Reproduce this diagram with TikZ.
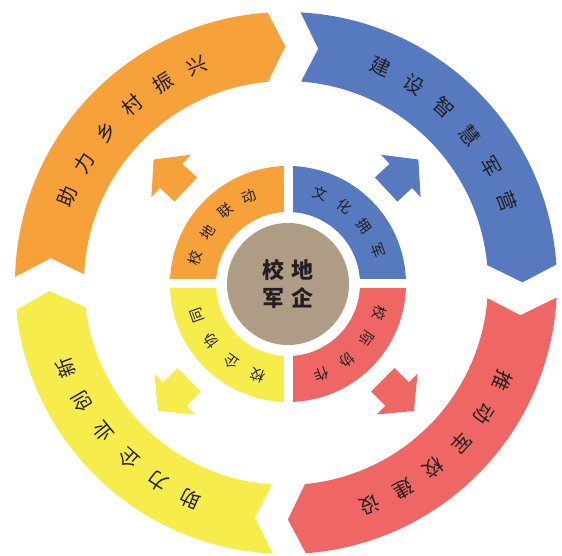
\documentclass[tikz,border=0pt]{standalone}
\usepackage{fontspec}
\newfontfamily\cjk{Noto Sans CJK SC}
\definecolor{cOr}{HTML}{F7A13B}
\definecolor{cBl}{HTML}{5779BF}
\definecolor{cRd}{HTML}{EE6764}
\definecolor{cYe}{HTML}{F6EC4C}
\definecolor{cBr}{HTML}{AE9C84}
\definecolor{cTx}{HTML}{231F20}
\newcommand\ringseg[3]{%
  \fill[#1] (#2-3.49:271pt) arc[start angle=#2-3.49, end angle=#3+3.49, radius=271pt]
    -- (#3-0.24:236.5pt) -- (#3+4.69:202pt)
    arc[start angle=#3+4.69, end angle=#2-4.69, radius=202pt]
    -- (#2-8.24:236.5pt) -- cycle;}
\newcommand\blockarrow[2]{%
  \begin{scope}[rotate=#2]
    \fill[#1] (137,-16.5) -- (157,-16.5) -- (157,-29) -- (181,0) -- (157,29) -- (157,16.5) -- (137,16.5) -- cycle;
  \end{scope}}
\tikzset{
  otext/.style={font=\cjk\fontsize{20}{20}\selectfont, text=cTx, inner sep=0pt},
  itext/.style={font=\cjk\fontsize{14.5}{14.5}\selectfont, text=cTx, inner sep=0pt},
  ctext/.style={font=\cjk\bfseries\fontsize{22}{28}\selectfont, text=cTx, align=center, inner sep=0pt}
}
\begin{document}
\begin{tikzpicture}[x=1pt,y=1pt]
\useasboundingbox[fill=white] (-286,-273) rectangle (276,283);
% outer ring
\ringseg{cOr}{182.2}{90.4}
\ringseg{cBl}{90.4}{0.4}
\ringseg{cRd}{0.4}{-89.3}
\ringseg{cYe}{-89.3}{-177.8}
% outer texts
\foreach \ch [count=\i from 0] in {助,力,乡,村,振,兴} {
  \pgfmathsetmacro\a{135.4+9.2*(2.5-\i)}
  \node[otext, rotate=\a-90] (ta\i) at (\a:235pt) {\ch};}
\foreach \ch [count=\i from 0] in {建,设,智,慧,军,营} {
  \pgfmathsetmacro\a{43.4+9.2*(2.5-\i)}
  \node[otext, rotate=\a-90] (tb\i) at (\a:236pt) {\ch};}
\foreach \ch [count=\i from 0] in {推,动,军,校,建,设} {
  \pgfmathsetmacro\a{-46.9+9.0*(2.5-\i)}
  \node[otext, rotate=\a-90] (tc\i) at (\a:237pt) {\ch};}
\foreach \ch [count=\i from 0] in {助,力,企,业,创,新} {
  \pgfmathsetmacro\a{-136.3+9.0*(2.5-\i)}
  \node[otext, rotate=\a-90] (td\i) at (\a:236pt) {\ch};}
% arrows
\blockarrow{cOr}{137}
\blockarrow{cBl}{43}
\blockarrow{cRd}{-45}
\blockarrow{cYe}{-135}
% inner ring
\begin{scope}[shift={(2,-1)}]
  \coordinate (C2) at (0,0);
  \fill[cOr] (90:118pt) arc[start angle=90, end angle=180, radius=118pt] -- (180:72pt) arc[start angle=180, end angle=90, radius=72pt] -- cycle;
  \fill[cBl] (0:118pt) arc[start angle=0, end angle=90, radius=118pt] -- (90:72pt) arc[start angle=90, end angle=0, radius=72pt] -- cycle;
  \fill[cRd] (-90:118pt) arc[start angle=-90, end angle=0, radius=118pt] -- (0:72pt) arc[start angle=0, end angle=-90, radius=72pt] -- cycle;
  \fill[cYe] (180:118pt) arc[start angle=180, end angle=270, radius=118pt] -- (270:72pt) arc[start angle=270, end angle=180, radius=72pt] -- cycle;
  \draw[white, line width=9pt] (-122,0) -- (122,0);
  \draw[white, line width=9pt] (0,-122) -- (0,122);
  \fill[cBr] (0,0) circle[radius=61pt];
  \foreach \ch [count=\i from 0] in {校,地,联,动} {
    \pgfmathsetmacro\a{139+16.8*(1.5-\i)}
    \node[itext, rotate=\a-90] (ia\i) at (\a:96pt) {\ch};}
  \foreach \ch [count=\i from 0] in {文,化,拥,军} {
    \pgfmathsetmacro\a{45.5+16.8*(1.5-\i)}
    \node[itext, rotate=\a-90] (ib\i) at (\a:96pt) {\ch};}
  \foreach \ch [count=\i from 0] in {校,际,协,作} {
    \pgfmathsetmacro\a{-43.5+17.4*(1.5-\i)}
    \node[itext, rotate=\a-90] (ic\i) at (\a:96pt) {\ch};}
  \foreach \ch [count=\i from 0] in {校,企,协,同} {
    \pgfmathsetmacro\a{-134.6+17.4*(1.5-\i)}
    \node[itext, rotate=\a-90] (id\i) at (\a:96pt) {\ch};}
  \node[ctext] (ctr) at (0,0) {校\hspace{7pt}地\\军\hspace{7pt}企};
\end{scope}
\end{tikzpicture}
\end{document}
